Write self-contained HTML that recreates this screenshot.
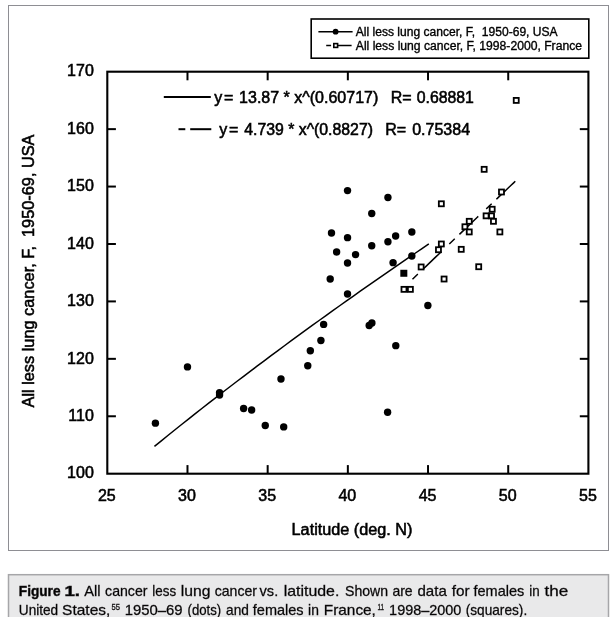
<!DOCTYPE html>
<html><head><meta charset="utf-8"><title>Figure 1</title>
<style>
html,body{margin:0;padding:0;background:#fff;}
body{width:614px;height:617px;overflow:hidden;font-family:"Liberation Sans",sans-serif;}
svg{display:block;will-change:transform;}
text{font-family:"Liberation Sans",sans-serif;fill:#000;}
.h{stroke:#000;stroke-width:0.55px;}
.h2{stroke:#000;stroke-width:0.35px;}
</style></head><body>
<svg width="614" height="617" viewBox="0 0 614 617">
<rect x="0" y="0" width="614" height="617" fill="#fff"/>
<rect x="8.5" y="5.5" width="600" height="545" fill="#fff" stroke="#8e8e93" stroke-width="1"/>
<rect x="8.5" y="574.7" width="600" height="60" fill="#e9e9ea" stroke="#a6a6a9" stroke-width="1.5"/>

<rect x="107.30" y="71.70" width="481.10" height="402.00" fill="none" stroke="#000" stroke-width="2.1"/>
<line x1="187.48" y1="71.70" x2="187.48" y2="80.30" stroke="#000" stroke-width="2"/>
<line x1="187.48" y1="473.70" x2="187.48" y2="465.10" stroke="#000" stroke-width="2"/>
<line x1="267.67" y1="71.70" x2="267.67" y2="80.30" stroke="#000" stroke-width="2"/>
<line x1="267.67" y1="473.70" x2="267.67" y2="465.10" stroke="#000" stroke-width="2"/>
<line x1="347.85" y1="71.70" x2="347.85" y2="80.30" stroke="#000" stroke-width="2"/>
<line x1="347.85" y1="473.70" x2="347.85" y2="465.10" stroke="#000" stroke-width="2"/>
<line x1="428.03" y1="71.70" x2="428.03" y2="80.30" stroke="#000" stroke-width="2"/>
<line x1="428.03" y1="473.70" x2="428.03" y2="465.10" stroke="#000" stroke-width="2"/>
<line x1="508.22" y1="71.70" x2="508.22" y2="80.30" stroke="#000" stroke-width="2"/>
<line x1="508.22" y1="473.70" x2="508.22" y2="465.10" stroke="#000" stroke-width="2"/>
<line x1="107.30" y1="416.27" x2="115.90" y2="416.27" stroke="#000" stroke-width="2"/>
<line x1="588.40" y1="416.27" x2="579.80" y2="416.27" stroke="#000" stroke-width="2"/>
<line x1="107.30" y1="358.84" x2="115.90" y2="358.84" stroke="#000" stroke-width="2"/>
<line x1="588.40" y1="358.84" x2="579.80" y2="358.84" stroke="#000" stroke-width="2"/>
<line x1="107.30" y1="301.41" x2="115.90" y2="301.41" stroke="#000" stroke-width="2"/>
<line x1="588.40" y1="301.41" x2="579.80" y2="301.41" stroke="#000" stroke-width="2"/>
<line x1="107.30" y1="243.99" x2="115.90" y2="243.99" stroke="#000" stroke-width="2"/>
<line x1="588.40" y1="243.99" x2="579.80" y2="243.99" stroke="#000" stroke-width="2"/>
<line x1="107.30" y1="186.56" x2="115.90" y2="186.56" stroke="#000" stroke-width="2"/>
<line x1="588.40" y1="186.56" x2="579.80" y2="186.56" stroke="#000" stroke-width="2"/>
<line x1="107.30" y1="129.13" x2="115.90" y2="129.13" stroke="#000" stroke-width="2"/>
<line x1="588.40" y1="129.13" x2="579.80" y2="129.13" stroke="#000" stroke-width="2"/>
<text x="106.80" y="501.2" font-size="16" class="h" text-anchor="middle">25</text>
<text x="186.98" y="501.2" font-size="16" class="h" text-anchor="middle">30</text>
<text x="267.17" y="501.2" font-size="16" class="h" text-anchor="middle">35</text>
<text x="347.35" y="501.2" font-size="16" class="h" text-anchor="middle">40</text>
<text x="427.53" y="501.2" font-size="16" class="h" text-anchor="middle">45</text>
<text x="507.72" y="501.2" font-size="16" class="h" text-anchor="middle">50</text>
<text x="587.90" y="501.2" font-size="16" class="h" text-anchor="middle">55</text>
<text x="93.8" y="478.40" font-size="16" class="h" text-anchor="end">100</text>
<text x="93.8" y="420.97" font-size="16" class="h" text-anchor="end">110</text>
<text x="93.8" y="363.54" font-size="16" class="h" text-anchor="end">120</text>
<text x="93.8" y="306.11" font-size="16" class="h" text-anchor="end">130</text>
<text x="93.8" y="248.69" font-size="16" class="h" text-anchor="end">140</text>
<text x="93.8" y="191.26" font-size="16" class="h" text-anchor="end">150</text>
<text x="93.8" y="133.83" font-size="16" class="h" text-anchor="end">160</text>
<text x="93.8" y="76.40" font-size="16" class="h" text-anchor="end">170</text>
<text x="291.6" y="535.4" font-size="16" class="h" textLength="120.8" lengthAdjust="spacingAndGlyphs">Latitude (deg. N)</text>
<text transform="translate(33.6,271) rotate(-90)" font-size="16" class="h" textLength="273" lengthAdjust="spacingAndGlyphs" text-anchor="middle" xml:space="preserve">All less lung cancer, F,  1950-69, USA</text>
<polyline points="154.45,446.38 161.31,440.81 168.17,435.26 175.03,429.75 181.89,424.28 188.75,418.83 195.61,413.41 202.47,408.02 209.33,402.66 216.18,397.33 223.04,392.03 229.90,386.76 236.76,381.51 243.62,376.29 250.48,371.10 257.34,365.93 264.20,360.78 271.06,355.67 277.92,350.57 284.78,345.50 291.64,340.45 298.50,335.43 305.36,330.43 312.22,325.45 319.08,320.50 325.94,315.56 332.80,310.65 339.66,305.76 346.52,300.88 353.38,296.03 360.24,291.20 367.10,286.39 373.96,281.60 380.82,276.83 387.68,272.08 394.54,267.34 401.40,262.63 408.26,257.93 415.12,253.25 421.98,248.59 428.84,243.94" fill="none" stroke="#000" stroke-width="1.5"/>
<polyline points="412.48,279.29 415.07,276.80 417.67,274.31 420.26,271.82 422.85,269.33 425.45,266.85 428.04,264.36 430.64,261.87 433.23,259.39 435.82,256.90 438.42,254.42 441.01,251.94 443.60,249.46 446.20,246.98 448.79,244.50 451.39,242.02 453.98,239.55 456.57,237.07 459.17,234.60 461.76,232.12 464.36,229.65 466.95,227.18 469.54,224.71 472.14,222.24 474.73,219.77 477.33,217.30 479.92,214.84 482.51,212.37 485.11,209.91 487.70,207.44 490.30,204.98 492.89,202.52 495.48,200.06 498.08,197.60 500.67,195.14 503.27,192.68 505.86,190.22 508.45,187.77 511.05,185.31 513.64,182.86 516.23,180.40" fill="none" stroke="#000" stroke-width="1.5" stroke-dasharray="7.5 6.5 26 11"/>
<circle cx="155.41" cy="423.16" r="3.7" fill="#000"/>
<circle cx="187.48" cy="366.88" r="3.7" fill="#000"/>
<circle cx="219.56" cy="392.73" r="3.7" fill="#000"/>
<circle cx="219.56" cy="395.02" r="3.7" fill="#000"/>
<circle cx="243.61" cy="408.52" r="3.7" fill="#000"/>
<circle cx="251.63" cy="409.95" r="3.7" fill="#000"/>
<circle cx="265.26" cy="425.46" r="3.7" fill="#000"/>
<circle cx="283.70" cy="426.90" r="3.7" fill="#000"/>
<circle cx="280.98" cy="378.94" r="3.7" fill="#000"/>
<circle cx="323.63" cy="324.39" r="3.7" fill="#000"/>
<circle cx="320.91" cy="340.47" r="3.7" fill="#000"/>
<circle cx="310.32" cy="350.80" r="3.7" fill="#000"/>
<circle cx="307.76" cy="365.73" r="3.7" fill="#000"/>
<circle cx="369.18" cy="325.53" r="3.7" fill="#000"/>
<circle cx="371.90" cy="322.95" r="3.7" fill="#000"/>
<circle cx="395.80" cy="345.63" r="3.7" fill="#000"/>
<circle cx="387.62" cy="412.25" r="3.7" fill="#000"/>
<circle cx="427.87" cy="305.43" r="3.7" fill="#000"/>
<circle cx="347.53" cy="190.58" r="3.7" fill="#000"/>
<circle cx="387.94" cy="197.47" r="3.7" fill="#000"/>
<circle cx="371.74" cy="213.55" r="3.7" fill="#000"/>
<circle cx="331.49" cy="233.07" r="3.7" fill="#000"/>
<circle cx="347.53" cy="237.67" r="3.7" fill="#000"/>
<circle cx="411.84" cy="231.93" r="3.7" fill="#000"/>
<circle cx="395.64" cy="235.95" r="3.7" fill="#000"/>
<circle cx="387.94" cy="241.69" r="3.7" fill="#000"/>
<circle cx="371.74" cy="245.71" r="3.7" fill="#000"/>
<circle cx="336.62" cy="252.03" r="3.7" fill="#000"/>
<circle cx="355.55" cy="254.61" r="3.7" fill="#000"/>
<circle cx="347.53" cy="262.94" r="3.7" fill="#000"/>
<circle cx="411.84" cy="256.05" r="3.7" fill="#000"/>
<circle cx="393.07" cy="262.65" r="3.7" fill="#000"/>
<circle cx="330.21" cy="279.02" r="3.7" fill="#000"/>
<circle cx="347.53" cy="293.95" r="3.7" fill="#000"/>
<rect x="400.32" y="269.77" width="7" height="7" fill="#000"/>
<rect x="513.73" y="97.91" width="5.0" height="5.0" fill="#fff" stroke="#000" stroke-width="1.8"/>
<rect x="481.66" y="166.83" width="5.0" height="5.0" fill="#fff" stroke="#000" stroke-width="1.8"/>
<rect x="498.98" y="189.51" width="5.0" height="5.0" fill="#fff" stroke="#000" stroke-width="1.8"/>
<rect x="438.84" y="201.29" width="5.0" height="5.0" fill="#fff" stroke="#000" stroke-width="1.8"/>
<rect x="489.68" y="206.74" width="5.0" height="5.0" fill="#fff" stroke="#000" stroke-width="1.8"/>
<rect x="483.59" y="213.35" width="5.0" height="5.0" fill="#fff" stroke="#000" stroke-width="1.8"/>
<rect x="489.04" y="213.35" width="5.0" height="5.0" fill="#fff" stroke="#000" stroke-width="1.8"/>
<rect x="490.96" y="218.80" width="5.0" height="5.0" fill="#fff" stroke="#000" stroke-width="1.8"/>
<rect x="497.38" y="229.43" width="5.0" height="5.0" fill="#fff" stroke="#000" stroke-width="1.8"/>
<rect x="466.75" y="218.80" width="5.0" height="5.0" fill="#fff" stroke="#000" stroke-width="1.8"/>
<rect x="462.42" y="224.26" width="5.0" height="5.0" fill="#fff" stroke="#000" stroke-width="1.8"/>
<rect x="466.75" y="229.43" width="5.0" height="5.0" fill="#fff" stroke="#000" stroke-width="1.8"/>
<rect x="438.84" y="241.49" width="5.0" height="5.0" fill="#fff" stroke="#000" stroke-width="1.8"/>
<rect x="435.96" y="247.23" width="5.0" height="5.0" fill="#fff" stroke="#000" stroke-width="1.8"/>
<rect x="458.73" y="246.83" width="5.0" height="5.0" fill="#fff" stroke="#000" stroke-width="1.8"/>
<rect x="476.21" y="264.23" width="5.0" height="5.0" fill="#fff" stroke="#000" stroke-width="1.8"/>
<rect x="418.64" y="264.46" width="5.0" height="5.0" fill="#fff" stroke="#000" stroke-width="1.8"/>
<rect x="441.57" y="276.52" width="5.0" height="5.0" fill="#fff" stroke="#000" stroke-width="1.8"/>
<rect x="401.48" y="286.85" width="5.0" height="5.0" fill="#fff" stroke="#000" stroke-width="1.8"/>
<rect x="407.89" y="286.85" width="5.0" height="5.0" fill="#fff" stroke="#000" stroke-width="1.8"/>
<line x1="163.8" y1="97" x2="210.8" y2="97" stroke="#000" stroke-width="2"/>
<text x="214.3" y="102.5" font-size="16" class="h" xml:space="preserve">y</text>
<text x="224.0" y="102.5" font-size="16" class="h" xml:space="preserve">=</text>
<text x="239.1" y="102.5" font-size="16" class="h" xml:space="preserve">13.87 * x^(0.60717)</text>
<text x="390.8" y="102.5" font-size="16" class="h" xml:space="preserve">R=</text>
<text x="416.7" y="102.5" font-size="16" class="h" textLength="57.2" lengthAdjust="spacingAndGlyphs" xml:space="preserve">0.68881</text>
<line x1="178.5" y1="129.2" x2="185.3" y2="129.2" stroke="#000" stroke-width="2"/>
<line x1="190.2" y1="129.2" x2="211.3" y2="129.2" stroke="#000" stroke-width="2"/>
<text x="219.2" y="135.2" font-size="16" class="h" xml:space="preserve">y</text>
<text x="229.0" y="135.2" font-size="16" class="h" xml:space="preserve">=</text>
<text x="244.2" y="135.2" font-size="16" class="h" textLength="128.8" lengthAdjust="spacingAndGlyphs" xml:space="preserve">4.739 * x^(0.8827)</text>
<text x="385.3" y="135.2" font-size="16" class="h" xml:space="preserve">R=</text>
<text x="412.2" y="135.2" font-size="16" class="h" xml:space="preserve">0.75384</text>
<rect x="311.2" y="19" width="277.6" height="39.2" fill="#fff" stroke="#000" stroke-width="1.6"/>
<line x1="318.4" y1="31.7" x2="352.6" y2="31.7" stroke="#000" stroke-width="1.5"/>
<circle cx="335.6" cy="31.7" r="2.9" fill="#000"/>
<line x1="326.2" y1="45.5" x2="331.1" y2="45.5" stroke="#000" stroke-width="1.5"/>
<line x1="338" y1="45.5" x2="351.6" y2="45.5" stroke="#000" stroke-width="1.5"/>
<rect x="333.8" y="43.6" width="3.8" height="3.8" fill="#fff" stroke="#000" stroke-width="1.6"/>
<text x="355.8" y="35.7" font-size="12" class="h2" textLength="201.8" lengthAdjust="spacingAndGlyphs" xml:space="preserve">All less lung cancer, F,  1950-69, USA</text>
<text x="355.8" y="49.5" font-size="12" class="h2" textLength="226.2" lengthAdjust="spacingAndGlyphs" xml:space="preserve">All less lung cancer, F, 1998-2000, France</text>
<text x="18.8" y="596.0" font-size="14.5" font-weight="bold" stroke="#231f20" stroke-width="0.5" textLength="41.7" lengthAdjust="spacingAndGlyphs" fill="#231f20">Figure</text>
<text x="64.4" y="596.0" font-size="14.5" font-weight="bold" stroke="#231f20" stroke-width="0.5" textLength="15.6" lengthAdjust="spacingAndGlyphs" fill="#231f20">1.</text>
<text x="84.3" y="596.0" font-size="14.5" stroke="#231f20" stroke-width="0.3" textLength="16.3" lengthAdjust="spacingAndGlyphs" fill="#231f20">All</text>
<text x="105.1" y="596.0" font-size="14.5" stroke="#231f20" stroke-width="0.3" textLength="42.4" lengthAdjust="spacingAndGlyphs" fill="#231f20">cancer</text>
<text x="152.3" y="596.0" font-size="14.5" stroke="#231f20" stroke-width="0.3" textLength="23.8" lengthAdjust="spacingAndGlyphs" fill="#231f20">less</text>
<text x="180.7" y="596.0" font-size="14.5" stroke="#231f20" stroke-width="0.3" textLength="29.7" lengthAdjust="spacingAndGlyphs" fill="#231f20">lung</text>
<text x="214.7" y="596.0" font-size="14.5" stroke="#231f20" stroke-width="0.3" textLength="42.3" lengthAdjust="spacingAndGlyphs" fill="#231f20">cancer</text>
<text x="259.6" y="596.0" font-size="14.5" stroke="#231f20" stroke-width="0.3" textLength="18.6" lengthAdjust="spacingAndGlyphs" fill="#231f20">vs.</text>
<text x="283.7" y="596.0" font-size="14.5" stroke="#231f20" stroke-width="0.3" textLength="55.7" lengthAdjust="spacingAndGlyphs" fill="#231f20">latitude.</text>
<text x="345.0" y="596.0" font-size="14.5" stroke="#231f20" stroke-width="0.3" textLength="43.1" lengthAdjust="spacingAndGlyphs" fill="#231f20">Shown</text>
<text x="392.4" y="596.0" font-size="14.5" stroke="#231f20" stroke-width="0.3" textLength="20.2" lengthAdjust="spacingAndGlyphs" fill="#231f20">are</text>
<text x="417.5" y="596.0" font-size="14.5" stroke="#231f20" stroke-width="0.3" textLength="29.3" lengthAdjust="spacingAndGlyphs" fill="#231f20">data</text>
<text x="451.7" y="596.0" font-size="14.5" stroke="#231f20" stroke-width="0.3" textLength="17.9" lengthAdjust="spacingAndGlyphs" fill="#231f20">for</text>
<text x="473.5" y="596.0" font-size="14.5" stroke="#231f20" stroke-width="0.3" textLength="50.8" lengthAdjust="spacingAndGlyphs" fill="#231f20">females</text>
<text x="529.2" y="596.0" font-size="14.5" stroke="#231f20" stroke-width="0.3" textLength="10.4" lengthAdjust="spacingAndGlyphs" fill="#231f20">in</text>
<text x="544.5" y="596.0" font-size="14.5" stroke="#231f20" stroke-width="0.3" textLength="23.8" lengthAdjust="spacingAndGlyphs" fill="#231f20">the</text>
<text x="18.8" y="614.6" font-size="14.5" stroke="#231f20" stroke-width="0.3" textLength="39.4" lengthAdjust="spacingAndGlyphs" fill="#231f20">United</text>
<text x="62.1" y="614.6" font-size="14.5" stroke="#231f20" stroke-width="0.3" textLength="48.2" lengthAdjust="spacingAndGlyphs" fill="#231f20">States,</text>
<text x="124.7" y="614.6" font-size="14.5" stroke="#231f20" stroke-width="0.3" textLength="57.9" lengthAdjust="spacingAndGlyphs" fill="#231f20">1950–69</text>
<text x="187.5" y="614.6" font-size="14.5" stroke="#231f20" stroke-width="0.3" textLength="33.7" lengthAdjust="spacingAndGlyphs" fill="#231f20">(dots)</text>
<text x="226.1" y="614.6" font-size="14.5" stroke="#231f20" stroke-width="0.3" textLength="22.8" lengthAdjust="spacingAndGlyphs" fill="#231f20">and</text>
<text x="252.8" y="614.6" font-size="14.5" stroke="#231f20" stroke-width="0.3" textLength="50.8" lengthAdjust="spacingAndGlyphs" fill="#231f20">females</text>
<text x="308.1" y="614.6" font-size="14.5" stroke="#231f20" stroke-width="0.3" textLength="10.8" lengthAdjust="spacingAndGlyphs" fill="#231f20">in</text>
<text x="323.8" y="614.6" font-size="14.5" stroke="#231f20" stroke-width="0.3" textLength="52.1" lengthAdjust="spacingAndGlyphs" fill="#231f20">France,</text>
<text x="389.1" y="614.6" font-size="14.5" stroke="#231f20" stroke-width="0.3" textLength="72.3" lengthAdjust="spacingAndGlyphs" fill="#231f20">1998–2000</text>
<text x="465.7" y="614.6" font-size="14.5" stroke="#231f20" stroke-width="0.3" textLength="61.5" lengthAdjust="spacingAndGlyphs" fill="#231f20">(squares).</text>
<text x="111.6" y="610.3" font-size="8.5" stroke="#231f20" stroke-width="0.3" textLength="8.5" lengthAdjust="spacingAndGlyphs" fill="#231f20">55</text>
<text x="377.5" y="610.3" font-size="8.5" stroke="#231f20" stroke-width="0.3" textLength="6.5" lengthAdjust="spacingAndGlyphs" fill="#231f20">11</text>
</svg></body></html>
